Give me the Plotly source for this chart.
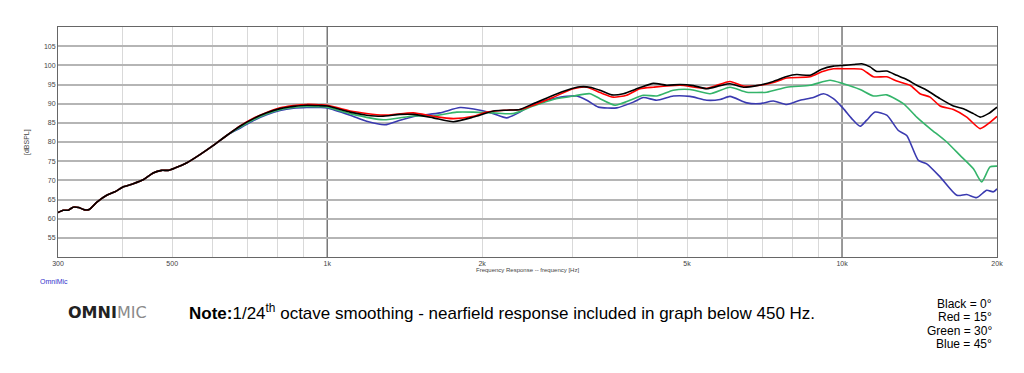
import plotly.graph_objects as go
import numpy as np

# ---------------- data ----------------
# shared near-field portion (all angles coincide below ~650 Hz)
near_freq = [300, 307, 314, 321, 329, 338, 345, 357, 373, 387, 402, 420, 440, 459,
             477, 491, 506, 533, 566, 601, 638]
near_db = [61.6, 62.2, 62.2, 63.0, 62.9, 62.3, 62.4, 64.3, 66.1, 67.0, 68.3, 69.1,
           70.2, 71.9, 72.6, 72.6, 73.2, 74.5, 76.7, 79.1, 81.7]

black_freq = [677, 719, 763, 810, 860, 913, 968, 1000, 1108, 1193, 1276, 1385, 1470,
              1607, 1758, 1923, 2103, 2231, 2368, 2514, 2750, 2919, 3098, 3239, 3388,
              3570, 3760, 4052, 4301, 4565, 4846, 5144, 5460, 5795, 6060, 6435, 6830,
              7356, 7810, 8167, 8667, 9132, 9622, 10062, 10522, 10921, 11337, 11680,
              12216, 12772, 13356, 13967, 14606, 15503, 16456, 17209, 17997, 18541,
              19243, 20000]
black_db = [84.1, 86.1, 87.6, 88.7, 89.3, 89.6, 89.5, 89.4, 87.8, 87.0, 86.7, 87.2,
            87.2, 86.3, 85.3, 86.5, 88.1, 88.3, 88.5, 90.0, 92.2, 93.5, 94.4, 94.3,
            93.5, 92.3, 92.6, 94.2, 95.3, 94.8, 95.0, 94.7, 93.9, 94.7, 95.2, 94.3,
            94.7, 95.8, 97.1, 97.6, 97.4, 99.0, 99.8, 100.0, 100.2, 100.4, 99.6, 98.4,
            98.5, 97.4, 96.3, 94.8, 93.5, 91.3, 89.4, 88.7, 87.4, 86.5, 87.4, 89.1]

red_freq = [677, 719, 763, 810, 860, 913, 968, 1000, 1108, 1285, 1470, 1607, 1758,
            1923, 2041, 2231, 2368, 2514, 2750, 3007, 3193, 3388, 3596, 3816, 4052,
            4301, 4846, 5460, 6060, 6435, 6933, 7356, 7810, 8667, 9132, 9622, 10213,
            10921, 11508, 12216, 12772, 13557, 14176, 14826, 15503, 16456, 17468,
            18541, 19243, 20000]
red_db = [84.2, 86.2, 87.7, 88.9, 89.5, 89.8, 89.7, 89.6, 88.1, 87.0, 87.6, 86.7,
          86.1, 86.7, 87.8, 88.3, 88.5, 89.6, 91.7, 93.9, 94.3, 92.9, 91.7, 92.2,
          93.9, 94.3, 94.8, 94.0, 95.8, 94.6, 94.8, 95.5, 96.7, 97.0, 98.3, 99.1,
          99.1, 99.0, 97.0, 97.0, 95.9, 94.8, 92.6, 91.7, 89.4, 88.5, 86.5, 83.5,
          84.8, 86.7]

green_freq = [677, 719, 763, 810, 860, 913, 968, 1000, 1108, 1285, 1470, 1607, 1785,
              1923, 2103, 2298, 2514, 2750, 3007, 3239, 3388, 3624, 3873, 4113, 4366,
              4703, 5067, 5542, 6060, 6531, 7142, 7810, 8667, 9479, 10062, 10841,
              11508, 12216, 13157, 13967, 14826, 15973, 16954, 17997, 18679, 19388,
              20000]
green_db = [83.8, 85.8, 87.3, 88.4, 89.0, 89.3, 89.2, 89.1, 87.4, 85.8, 86.8, 86.8,
            87.8, 87.8, 87.6, 87.4, 89.4, 91.1, 92.0, 92.6, 91.3, 89.6, 90.9, 92.2,
            92.0, 93.5, 93.7, 92.6, 94.3, 93.0, 93.0, 94.3, 94.8, 96.1, 95.2, 93.7,
            92.0, 92.3, 90.0, 86.5, 83.5, 80.0, 76.5, 73.0, 69.6, 73.5, 73.7]

blue_freq = [677, 719, 763, 810, 860, 913, 968, 1000, 1108, 1193, 1295, 1385, 1492,
             1656, 1812, 1981, 2103, 2231, 2368, 2514, 2750, 2919, 3053, 3193, 3363,
             3652, 3932, 4113, 4366, 4703, 5067, 5460, 5795, 6060, 6531, 6933, 7356,
             7810, 8290, 8797, 9200, 9622, 10062, 10445, 10841, 11169, 11594, 12216,
             12867, 13356, 14071, 14606, 15503, 16704, 17468, 18267, 19102, 19680,
             20000]
blue_db = [83.6, 85.6, 87.1, 88.2, 88.8, 89.0, 89.0, 88.9, 87.0, 85.4, 84.5, 85.7,
           86.8, 87.6, 89.0, 88.3, 87.4, 86.3, 87.8, 90.0, 91.3, 91.9, 92.0, 90.9,
           89.1, 88.9, 90.4, 91.6, 90.9, 92.0, 91.9, 90.9, 91.1, 91.9, 90.2, 90.0,
           90.7, 89.8, 90.9, 91.6, 92.6, 91.3, 88.7, 86.1, 84.1, 85.7, 87.8, 87.0,
           83.0, 81.7, 75.2, 74.3, 70.9, 66.1, 66.3, 65.5, 67.4, 67.0, 67.8]

x_tick_vals = [300, 500, 1000, 2000, 5000, 10000, 20000]
x_tick_text = ["300", "500", "1k", "2k", "5k", "10k", "20k"]
x_minor_grid = [400, 500, 600, 700, 800, 900, 2000, 3000, 4000, 5000, 6000, 7000,
                8000, 9000]
x_major_lines = [1000, 10000]
y_tick_vals = [55, 60, 65, 70, 75, 80, 85, 90, 95, 100, 105]

legend_lines = ["Black = 0°", "Red = 15°", "Green = 30°", "Blue = 45°"]

# ---------------- figure ----------------
W, H = 1024, 373
L, R, T, B = 58, 27, 27, 116
pw, ph = W - L - R, H - T - B


def px(x):
    return (x - L) / pw


def py(y):
    return (H - B - y) / ph


fig = go.Figure()
series = [
    ("Blue = 45°", blue_freq, blue_db, "#3a3ab0"),
    ("Green = 30°", green_freq, green_db, "#34b46a"),
    ("Red = 15°", red_freq, red_db, "#ff0000"),
    ("Black = 0°", black_freq, black_db, "#000000"),
]
for name, f, d, c in series:
    fig.add_trace(go.Scatter(
        x=near_freq + f, y=near_db + d, mode="lines", name=name,
        line=dict(color=c, width=1.6, shape="spline", smoothing=0.6),
        showlegend=False, hoverinfo="x+y+name"))

for xv in x_major_lines:
    fig.add_shape(type="line", xref="x", yref="paper", x0=xv, x1=xv, y0=0, y1=1,
                  line=dict(color="#555555", width=1.2), layer="below")

font_main = "Liberation Sans, Arial, sans-serif"
fig.update_layout(
    width=W, height=H, autosize=False,
    margin=dict(l=L, r=R, t=T, b=B, pad=0),
    paper_bgcolor="white", plot_bgcolor="white",
    font=dict(family=font_main, color="#444444"),
    xaxis=dict(
        type="log", range=[np.log10(300), np.log10(20000)],
        tickmode="array", tickvals=x_tick_vals, ticktext=x_tick_text,
        tickfont=dict(size=7, color="#444444"), ticks="", showgrid=False,
        showline=True, linecolor="#666666", linewidth=1, mirror=True,
        zeroline=False,
        minor=dict(tickvals=x_minor_grid, showgrid=True, gridcolor="#d9d9d9",
                   gridwidth=1, ticks=""),
    ),
    yaxis=dict(
        range=[50, 110], tickmode="array", tickvals=y_tick_vals,
        tickfont=dict(size=7, color="#444444"), ticks="",
        showgrid=True, gridcolor="#b5b5b5", gridwidth=2,
        showline=True, linecolor="#666666", linewidth=1, mirror=True,
        zeroline=False,
    ),
)

ann = []
ann.append(dict(text="[dBSPL]", x=px(27), y=0.5, xref="paper", yref="paper",
                textangle=-90, showarrow=False, font=dict(size=7, color="#444444"),
                xanchor="center", yanchor="middle"))
ann.append(dict(text="Frequency Response -- frequency [Hz]", x=0.5, y=py(270),
                xref="paper", yref="paper", showarrow=False,
                font=dict(size=6, color="#444444"), xanchor="center", yanchor="middle"))
ann.append(dict(text="OmniMic", x=px(38), y=py(281), xref="paper", yref="paper",
                showarrow=False, font=dict(size=7, color="#3333cc"),
                xanchor="left", yanchor="middle"))
ann.append(dict(text="<b>OMNI</b><span style='color:#8a8a8a'>MIC</span>",
                x=px(66), y=py(312), xref="paper", yref="paper", showarrow=False,
                font=dict(size=16, color="#222222", family="DejaVu Sans, sans-serif"),
                xanchor="left", yanchor="middle"))
ann.append(dict(text="<b>Note:</b>1/24<sup>th</sup> octave smoothing - nearfield response included in graph below 450 Hz.",
                x=px(187), y=py(312), xref="paper", yref="paper", showarrow=False,
                font=dict(size=17, color="#000000",
                          family="Liberation Sans Narrow, Arial Narrow, Liberation Sans, sans-serif"),
                xanchor="left", yanchor="middle"))
for i, t in enumerate(legend_lines):
    ann.append(dict(text=t, x=px(994), y=py(304 + i * 13.3), xref="paper",
                    yref="paper", showarrow=False,
                    font=dict(size=12, color="#000000",
                              family="Liberation Sans Narrow, Arial Narrow, Liberation Sans, sans-serif"),
                    xanchor="right", yanchor="middle"))
fig.update_layout(annotations=ann)

fig.write_html("out.html", config={"displayModeBar": False},
               post_script="document.body.style.margin='0px';document.body.style.padding='0px';")
